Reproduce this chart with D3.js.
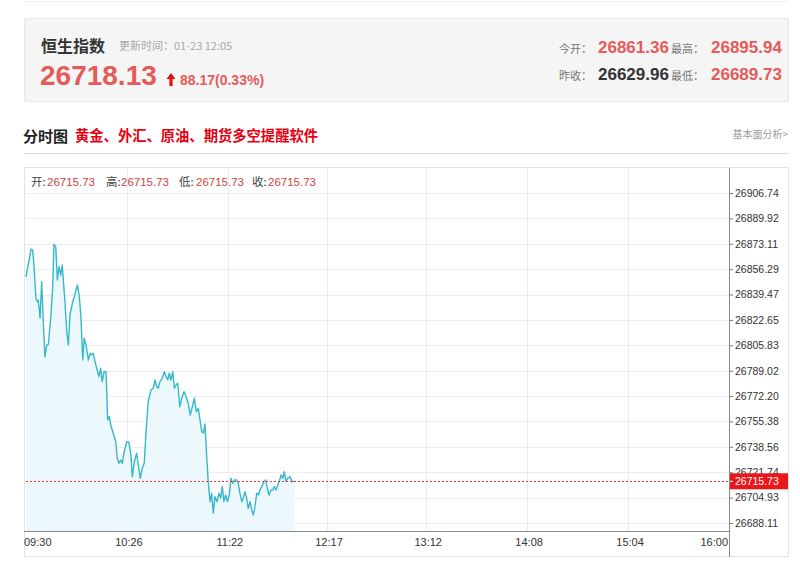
<!DOCTYPE html>
<html>
<head>
<meta charset="utf-8">
<script src="https://cdn.jsdelivr.net/npm/d3@7/dist/d3.min.js"></script>
<style>
  html, body { margin: 0; padding: 0; background: #fff; }
  svg { display: block; }
  text { font-family: "Liberation Sans", Arial, "Noto Sans CJK SC", sans-serif; }
  .cjk { font-family: "Noto Sans CJK SC", "Liberation Sans", sans-serif; }
</style>
</head>
<body>
<svg id="chart" width="800" height="581"></svg>
<script>
// ---------- data ----------
const title = "恒生指数";
const updateText = "更新时间：01-23 12:05";
const lastPrice = "26718.13";
const changeText = "88.17(0.33%)";
const openPrice = "26861.36";
const highPrice = "26895.94";
const prevClose = "26629.96";
const lowPrice = "26689.73";
const ohlcLabels = ["开:", "高:", "低:", "收:"];
const ohlcValues = ["26715.73", "26715.73", "26715.73", "26715.73"];
const lastValue = 26715.73;

// minutes since 09:30
const minutes = [0, 2.8, 3.7, 4.4, 5.5, 6.3, 6.8, 7.8, 8.7, 9.6, 10.5, 11.5, 12.4, 13.7, 14.8, 15.5, 16.5, 17.4, 18.3, 19.3,
  20.1, 21.6, 22.6, 23.5, 24.4, 25.9, 26.8, 28.5, 29.6, 30.5, 31.5, 32.3, 33.3, 34.6, 35.5, 36.4, 37.3, 38.3, 39.2, 40.5,
  41.4, 42.3, 43.3, 44.4, 45.3, 46.2, 47.3, 48.4, 49.8, 50.6, 51.6, 52.5, 53.4, 54.5, 55.9, 57.1, 58.2, 59.0, 60.1, 61.4,
  62.3, 63.4, 64.5, 65.6, 66.6, 67.8, 69.3, 70.6, 71.6, 72.5, 73.4, 74.3, 75.6, 76.7, 77.7, 78.6, 79.5, 80.4, 81.4, 82.3,
  83.2, 84.2, 85.3, 86.4, 87.7, 88.8, 90.0, 91.1, 92.3, 93.4, 94.5, 95.6, 96.5, 97.5, 98.4, 99.3, 100.2, 101.1, 102.1, 103.0,
  103.9, 104.8, 106.0, 107.1, 108.0, 108.9, 109.8, 110.8, 111.7, 112.8, 113.7, 114.7, 115.6, 116.9, 117.8, 118.7, 119.7, 120.5, 121.5, 122.4,
  123.3, 124.3, 125.2, 126.1, 127.0, 128.0, 128.9, 129.8, 130.8, 131.9, 133.0, 133.9, 134.8, 135.9, 136.9, 137.7, 138.7, 139.6, 140.5, 141.5,
  142.4, 143.3, 144.2, 145.2, 146.5, 147.7, 149.0];
const prices = [26851.09, 26869.64, 26868.98, 26859.04, 26837.18, 26834.73, 26835.85, 26823.93, 26847.98, 26821.48, 26798.29, 26806.04, 26806.50, 26823.93, 26843.80, 26872.75, 26871.16, 26849.10, 26857.91, 26852.41,
  26859.04, 26834.73, 26814.85, 26806.04, 26825.91, 26834.73, 26838.04, 26845.79, 26838.04, 26823.73, 26796.10, 26810.48, 26806.04, 26796.10, 26800.54, 26799.41, 26800.54, 26794.98, 26790.60, 26785.04,
  26790.60, 26781.73, 26788.35, 26788.35, 26756.35, 26758.54, 26751.71, 26747.54, 26741.98, 26730.98, 26727.67, 26729.85, 26727.67, 26735.35, 26741.98, 26741.58, 26733.16, 26718.79, 26728.73, 26734.29,
  26726.54, 26717.73, 26724.35, 26727.67, 26748.60, 26768.48, 26776.23, 26777.35, 26782.85, 26778.41, 26777.35, 26781.73, 26783.98, 26788.35, 26785.04, 26782.85, 26787.29, 26782.85, 26788.35, 26777.35,
  26779.54, 26780.67, 26765.16, 26770.73, 26775.10, 26771.79, 26767.42, 26759.66, 26765.16, 26770.73, 26761.85, 26764.10, 26756.35, 26748.60, 26747.74, 26753.70, 26733.16, 26715.48, 26702.23, 26707.79,
  26694.54, 26705.54, 26702.23, 26707.79, 26704.48, 26712.16, 26702.23, 26706.66, 26702.23, 26706.66, 26717.73, 26714.42, 26716.60, 26716.60, 26714.42, 26707.79, 26702.23, 26704.48, 26708.85, 26704.48,
  26697.85, 26702.23, 26696.73, 26693.41, 26698.91, 26707.79, 26706.66, 26709.98, 26712.16, 26715.48, 26716.60, 26711.10, 26706.66, 26709.98, 26709.98, 26712.16, 26709.98, 26713.29, 26715.48, 26719.91,
  26717.73, 26722.10, 26715.48, 26717.73, 26718.79, 26715.48, 26715.73];

const yTicks = [26906.74, 26889.92, 26873.11, 26856.29, 26839.47, 26822.65, 26805.83, 26789.02, 26772.20, 26755.38, 26738.56, 26721.74, 26704.93, 26688.11];
const xTickLabels = ["09:30", "10:26", "11:22", "12:17", "13:12", "14:08", "15:04", "16:00"];
const yDomain = [26682.8, 26923.3];
const sessionMinutes = 390;

// ---------- drawing ----------
const svg = d3.select("#chart");
const red = "#e45b59";

// top faint line
svg.append("line").attr("x1", 24).attr("x2", 789).attr("y1", 1.5).attr("y2", 1.5).attr("stroke", "#eeeeee");

// header box
svg.append("rect").attr("x", 24.5).attr("y", 18.5).attr("width", 764).attr("height", 83)
  .attr("fill", "#f5f5f5").attr("stroke", "#e8e8e8");
svg.append("text").attr("class", "cjk").attr("x", 41).attr("y", 52).attr("font-size", 16).attr("font-weight", "bold")
  .attr("fill", "#333").text(title);
svg.append("text").attr("class", "cjk").attr("x", 119).attr("y", 50).attr("font-size", 11).attr("fill", "#a8a8a8").text(updateText);
svg.append("text").attr("x", 40).attr("y", 85).attr("font-size", 28).attr("font-weight", "bold").attr("fill", red).text(lastPrice);
svg.append("path").attr("d", "M171,73 L175.5,79 L172.6,79 L172.6,86 L169.4,86 L169.4,79 L166.5,79 Z").attr("fill", "#e01010");
svg.append("text").attr("x", 180).attr("y", 85).attr("font-size", 14).attr("font-weight", "bold").attr("fill", red).text(changeText);

const statRows = [
  [{ t: "今开：", x: 559, c: "#777", s: 11, b: false, cjk: true }, { t: openPrice, x: 598, c: red, s: 17, b: true },
   { t: "最高：", x: 671, c: "#777", s: 11, b: false, cjk: true }, { t: highPrice, x: 711, c: red, s: 17, b: true }],
  [{ t: "昨收：", x: 559, c: "#777", s: 11, b: false, cjk: true }, { t: prevClose, x: 598, c: "#333", s: 17, b: true },
   { t: "最低：", x: 671, c: "#777", s: 11, b: false, cjk: true }, { t: lowPrice, x: 711, c: red, s: 17, b: true }]
];
statRows.forEach((row, i) => {
  row.forEach(d => {
    svg.append("text").attr("class", d.cjk ? "cjk" : null).attr("x", d.x).attr("y", 53 + i * 27)
      .attr("font-size", d.s).attr("font-weight", d.b ? "bold" : "normal").attr("fill", d.c).text(d.t);
  });
});

// section title
svg.append("text").attr("class", "cjk").attr("x", 23).attr("y", 142).attr("font-size", 15).attr("font-weight", "bold")
  .attr("fill", "#222").text("分时图");
svg.append("text").attr("class", "cjk").attr("x", 75).attr("y", 141).attr("font-size", 14.3).attr("font-weight", "bold")
  .attr("fill", "#e60012").text("黄金、外汇、原油、期货多空提醒软件");
svg.append("text").attr("class", "cjk").attr("x", 788).attr("y", 138).attr("text-anchor", "end").attr("font-size", 10)
  .attr("fill", "#9a9a9a").text("基本面分析>");
svg.append("line").attr("x1", 24).attr("x2", 789).attr("y1", 153.5).attr("y2", 153.5).attr("stroke", "#dddddd");

// chart box
const plot = { left: 26, right: 729, top: 168, bottom: 531 };
svg.append("rect").attr("x", 24.5).attr("y", 167.5).attr("width", 764).attr("height", 389)
  .attr("fill", "#fff").attr("stroke", "#e3e3e3");

const x = d3.scaleLinear().domain([0, sessionMinutes]).range([plot.left, plot.right]);
const y = d3.scaleLinear().domain(yDomain).range([plot.bottom, plot.top]);
const toMin = s => { const [h, m] = s.split(":").map(Number); return (h * 60 + m) - (9 * 60 + 30); };

// grid
const g = svg.append("g");
g.selectAll("line.h").data(yTicks).join("line")
  .attr("x1", plot.left).attr("x2", plot.right)
  .attr("y1", d => Math.round(y(d)) + 0.5).attr("y2", d => Math.round(y(d)) + 0.5)
  .attr("stroke", "#ececec");
g.selectAll("line.v").data(xTickLabels.slice(1, -1)).join("line")
  .attr("x1", d => Math.round(x(toMin(d))) + 0.5).attr("x2", d => Math.round(x(toMin(d))) + 0.5)
  .attr("y1", plot.top).attr("y2", plot.bottom)
  .attr("stroke", "#ececec");

// area + line
const data = minutes.map((m, i) => ({ m, v: prices[i] }));
svg.append("path").datum(data)
  .attr("d", d3.area().x(d => x(d.m)).y0(plot.bottom).y1(d => y(d.v)))
  .attr("fill", "#ecf8fc");
svg.append("path").datum(data)
  .attr("d", d3.line().x(d => x(d.m)).y(d => y(d.v)))
  .attr("fill", "none").attr("stroke", "#35b8cc").attr("stroke-width", 1.4).attr("stroke-linejoin", "round");

// last price dotted line
svg.append("line").attr("x1", plot.left).attr("x2", plot.right)
  .attr("y1", Math.round(y(lastValue)) + 0.5).attr("y2", Math.round(y(lastValue)) + 0.5)
  .attr("stroke", "#ff3030").attr("stroke-dasharray", "2,2").attr("stroke-width", 1);

// OHLC row
const ohlcX = [[31, 47], [106, 121], [179, 196], [252, 268]];
ohlcLabels.forEach((lab, i) => {
  svg.append("text").attr("class", "cjk").attr("x", ohlcX[i][0]).attr("y", 186).attr("font-size", 11.5).attr("fill", "#444").text(lab);
  svg.append("text").attr("x", ohlcX[i][1]).attr("y", 186).attr("font-size", 11.5).attr("fill", "#c9463d").text(ohlcValues[i]);
});

// axes
const yAxis = d3.axisRight(y).tickValues(yTicks).tickFormat(d3.format(".2f")).tickSize(4).tickPadding(2);
const ya = svg.append("g").attr("transform", `translate(${plot.right},0)`).call(yAxis);
ya.select(".domain").remove();
ya.selectAll(".tick line").attr("stroke", "#777");
ya.selectAll(".tick text").attr("font-size", 10.5).attr("fill", "#333").attr("font-family", "Liberation Sans, Arial, sans-serif");
svg.append("line").attr("x1", plot.right + 0.5).attr("x2", plot.right + 0.5).attr("y1", 168).attr("y2", 557)
  .attr("stroke", "#8a8a8a");

svg.append("line").attr("x1", 24).attr("x2", plot.right).attr("y1", plot.bottom + 0.5).attr("y2", plot.bottom + 0.5)
  .attr("stroke", "#8a8a8a");
svg.selectAll("text.xl").data(xTickLabels).join("text")
  .attr("x", (d, i) => i === 0 ? 24 : (i === xTickLabels.length - 1 ? plot.right - 1 : x(toMin(d)) + 2))
  .attr("y", 546)
  .attr("text-anchor", (d, i) => i === 0 ? "start" : (i === xTickLabels.length - 1 ? "end" : "middle"))
  .attr("font-size", 11).attr("fill", "#333").text(d => d);

// last price label (covers the neighbouring tick label as in the reference)
const ly = y(lastValue);
svg.append("rect").attr("x", plot.right + 1).attr("y", ly - 8).attr("width", 58).attr("height", 16).attr("fill", "#e8171b");
svg.append("line").attr("x1", plot.right + 1).attr("x2", plot.right + 4).attr("y1", ly).attr("y2", ly).attr("stroke", "#fff");
svg.append("text").attr("x", plot.right + 6).attr("y", ly + 4).attr("font-size", 10.5).attr("fill", "#fff").text(d3.format(".2f")(lastValue));
</script>
</body>
</html>
